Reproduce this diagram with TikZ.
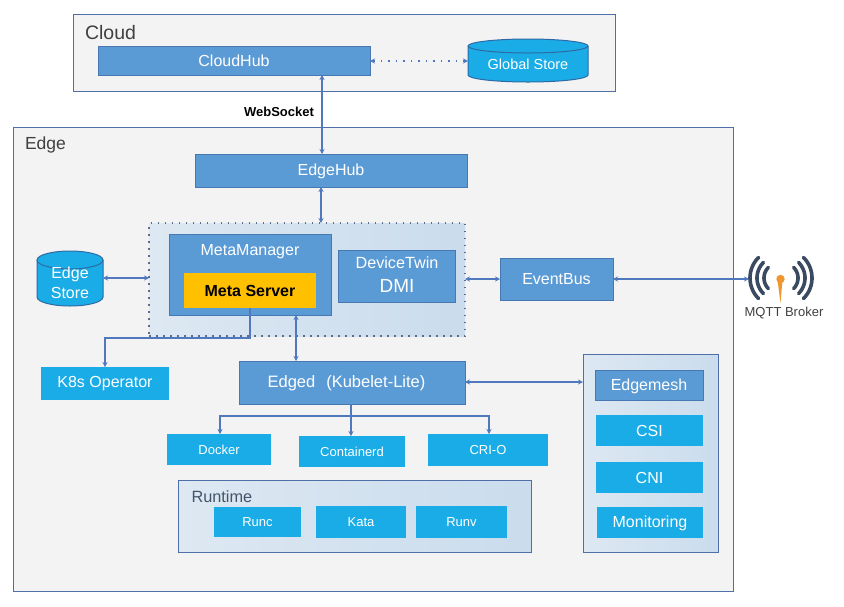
\documentclass[tikz,border=0pt]{standalone}
\usepackage{fontspec}
\setmainfont{Liberation Sans}
\usetikzlibrary{arrows.meta}
\definecolor{boxblue}{HTML}{5B9BD5}
\definecolor{boxline}{HTML}{4878B2}
\definecolor{cyanbox}{HTML}{1AACE6}
\definecolor{cylline}{HTML}{2E6AA5}
\definecolor{panelline}{HTML}{4F6FA8}
\definecolor{panelfill}{HTML}{F3F3F4}
\definecolor{shadeA}{HTML}{DDE8F2}
\definecolor{shadeB}{HTML}{CADCED}
\definecolor{conn}{HTML}{4F78BE}
\definecolor{dotgrey}{HTML}{5A6E8C}
\definecolor{metayellow}{HTML}{FFC000}
\definecolor{iconink}{HTML}{3A4A60}
\definecolor{iconorange}{HTML}{F0962E}
\definecolor{captiondark}{HTML}{44546A}
\tikzset{
  base/.style={rectangle,inner sep=0pt,outer sep=0pt},
  bluebox/.style={base,draw=boxline,line width=1pt,fill=boxblue,text=white,font=\fontsize{16}{18}\selectfont},
  cyan box/.style={base,fill=cyanbox,text=white,font=\fontsize{14}{16}\selectfont},
  panel/.style={base,draw=panelline,line width=1pt,fill=panelfill},
  shaded panel/.style={base,draw=panelline,line width=1pt,left color=shadeA,right color=shadeB},
  link/.style={draw=conn,line width=1.1pt,{Stealth[length=5pt,width=5pt]}-{Stealth[length=5pt,width=5pt]}},
  oneway/.style={draw=conn,line width=1.1pt,-{Stealth[length=5pt,width=5pt]}},
  caption/.style={inner sep=0pt,outer sep=0pt,text=black!75,font=\fontsize{17.5}{20}\selectfont},
  cylshape/.style={draw=cylline,line width=1pt},
}
\newcommand{\dn}[2]{\raisebox{-#1}[\height][\depth]{#2}}
\newcommand{\bx}[7]{\node[#1,minimum width={(#5-#3)*1pt},minimum height={(#6-#4)*1pt}] (#2) at ({(#3+#5)/2},{(#4+#6)/2}) {#7};}
% cylinder drawn by hand: #2 name, #3..#6 box, #7 end radius, #8 text
\newcommand{\dbc}[8]{%
  \pgfmathsetmacro{\rxv}{(#5-#3)/2}%
  \fill[cyanbox] (#3,#4+#7) -- (#3,#6-#7) arc[start angle=180,end angle=0,x radius=\rxv,y radius=#7] -- (#5,#4+#7) arc[start angle=0,end angle=-180,x radius=\rxv,y radius=#7] -- cycle;
  \draw[cylshape] (#3,#4+#7) -- (#3,#6-#7) arc[start angle=180,end angle=0,x radius=\rxv,y radius=#7] -- (#5,#4+#7) arc[start angle=0,end angle=-180,x radius=\rxv,y radius=#7] -- cycle;
  \draw[cylshape] (#3,#4+#7) arc[start angle=180,end angle=0,x radius=\rxv,y radius=#7];
  \node[base,#1,minimum width={(#5-#3)*1pt},minimum height={(#6-#4)*1pt},text=white] (#2) at ({(#3+#5)/2},{(#4+#6)/2}) {#8};}
\begin{document}
\begin{tikzpicture}[x=1pt,y=-1pt]
\useasboundingbox (0,0) rectangle (844,606);
% panels
\bx{panel}{cloud}{73}{14}{615}{91}{}
\bx{panel}{edge}{13}{127}{733}{591}{}
\node[caption,anchor=west,font=\fontsize{19.5}{22}\selectfont] (cloudlabel) at (85,33) {Cloud};
\node[caption,anchor=west] (edgelabel) at (25,144.5) {Edge};
% cloud
\bx{bluebox}{cloudhub}{98}{46}{370}{75}{CloudHub}
\dbc{yshift=-4pt,font=\fontsize{14.5}{17}\selectfont}{gstore}{468}{39}{588}{82}{7}{Global Store}
\node[inner sep=0pt,font=\bfseries\fontsize{13}{15}\selectfont] (ws) at (279,111.5) {WebSocket};
% edge
\bx{bluebox}{edgehub}{195}{154}{467}{187}{\dn{1pt}{EdgeHub}}
\bx{shaded panel,draw=dotgrey,line width=1.3pt,dash pattern=on 1.5pt off 5.5pt}{region}{149}{223}{465}{336}{}
\bx{bluebox}{mm}{169}{234}{331}{315}{}
\node[text=white,inner sep=0pt,font=\fontsize{16}{18}\selectfont] (mmlabel) at (250,252) {MetaManager};
\bx{base,fill=metayellow,text=black,font=\bfseries\fontsize{16}{18}\selectfont}{ms}{184}{273}{316}{308}{Meta Server}
\bx{bluebox}{dt}{338}{250}{455}{302}{}
\node[text=white,inner sep=0pt,font=\fontsize{16.2}{18}\selectfont] (dtlabel) at (397,263) {DeviceTwin};
\node[text=white,inner sep=0pt,font=\fontsize{19}{21}\selectfont] (dmilabel) at (397,286) {DMI};
\bx{bluebox}{eventbus}{500}{258}{613}{300}{EventBus}
\dbc{yshift=-4pt,align=center,font=\fontsize{16}{20}\selectfont}{estore}{37}{251}{103}{306}{9}{Edge\\Store}
\bx{cyan box,font=\fontsize{16}{18}\selectfont}{k8s}{41}{367}{169}{400}{K8s Operator}
\bx{bluebox,font=\fontsize{16.5}{18}\selectfont}{edged}{239}{361}{465}{404}{\dn{1pt}{Edged\hspace{11pt}(Kubelet-Lite)\hspace{11pt}}}
\bx{cyan box,font=\fontsize{13}{15}\selectfont}{docker}{167}{434}{271}{465}{Docker}
\bx{cyan box,font=\fontsize{13}{15}\selectfont}{containerd}{299}{436}{405}{467}{Containerd}
\bx{cyan box,font=\fontsize{13}{15}\selectfont}{crio}{428}{434}{548}{466}{CRI-O}
% runtime
\bx{shaded panel}{runtime}{178}{480}{531}{552}{}
\node[caption,text=captiondark,anchor=west,font=\fontsize{16.3}{18}\selectfont] (runtimelabel) at (191.5,497) {Runtime};
\bx{cyan box,font=\fontsize{13}{15}\selectfont}{runc}{214}{507}{301}{537}{Runc}
\bx{cyan box,font=\fontsize{13}{15}\selectfont}{kata}{316}{506}{406}{538}{Kata}
\bx{cyan box,font=\fontsize{13}{15}\selectfont}{runv}{416}{506}{507}{538}{Runv}
% right stack
\bx{shaded panel}{stack}{583}{354}{718}{552}{}
\bx{bluebox}{emesh}{595}{370}{703}{400}{\dn{1pt}{Edgemesh}}
\bx{cyan box,font=\fontsize{16}{18}\selectfont}{csi}{596}{415}{703}{446}{CSI}
\bx{cyan box,font=\fontsize{16}{18}\selectfont}{cni}{596}{462}{703}{493}{CNI}
\bx{cyan box,font=\fontsize{16}{18}\selectfont}{mon}{597}{507}{703}{538}{\dn{1pt}{Monitoring}}
% MQTT icon
\foreach \r in {15,22,29}{
  \draw[iconink,line width=3.6pt,line cap=round] plot[domain=135:225,samples=25] ({779+\r*cos(\x)},{278+\r*sin(\x)});
  \draw[iconink,line width=3.6pt,line cap=round] plot[domain=-45:45,samples=25] ({783+\r*cos(\x)},{278+\r*sin(\x)});
}
\fill[iconorange] (777.5,280) -- (780.5,303) -- (782.5,280) -- cycle;
\fill[iconorange] (780.5,279) circle[radius=4.2];
\coordinate (mqtt) at (749,279);
\node[inner sep=0pt,text=black!75,font=\fontsize{13}{15}\selectfont] (mqttlabel) at (784,313) {MQTT Broker};
% helper columns / rows for connector positions
\coordinate (x322) at (322,0);
\coordinate (x321) at (321,0);
\coordinate (x296) at (296,0);
\coordinate (x250) at (250,0);
\coordinate (x105) at (105,0);
\coordinate (x351) at (351,0);
\coordinate (x220) at (220,0);
\coordinate (x489) at (489,0);
\coordinate (y279) at (0,279);
\coordinate (y278) at (0,278);
\coordinate (y338) at (0,338);
\coordinate (y416) at (0,416);
\coordinate (y382) at (0,382);
\coordinate (y61) at (0,61);
% connectors
\draw[link,dash pattern=on 1.5pt off 6pt] (cloudhub.east |- y61) -- (gstore.west |- y61);
\draw[link] (x322 |- cloudhub.south) -- (x322 |- edgehub.north);
\draw[link] (x321 |- edgehub.south) -- (x321 |- region.north);
\draw[link] (estore.east |- y278) -- (region.west |- y278);
\draw[link] (region.east |- y279) -- (eventbus.west |- y279);
\draw[link] (eventbus.east |- y279) -- (mqtt);
\draw[link] (x296 |- mm.south) -- (x296 |- edged.north);
\draw[link] (edged.east |- y382) -- (stack.west |- y382);
\draw[oneway] (x250 |- ms.south) -- (x250 |- y338) -- (x105 |- y338) -- (x105 |- k8s.north);
\draw[oneway] (x351 |- edged.south) -- (x351 |- containerd.north);
\draw[oneway] (x351 |- y416) -- (x220 |- y416) -- (x220 |- docker.north);
\draw[oneway] (x351 |- y416) -- (x489 |- y416) -- (x489 |- crio.north);
\end{tikzpicture}
\end{document}
